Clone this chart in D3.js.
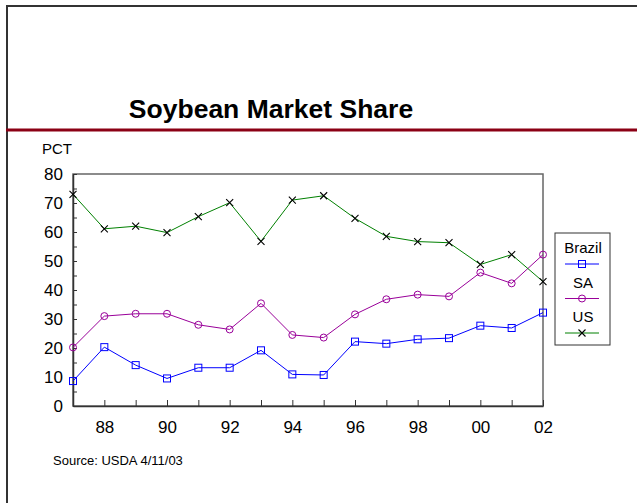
<!DOCTYPE html>
<meta charset="utf-8">
<script src="https://d3js.org/d3.v7.min.js"></script>
<style>
  body { margin: 0; background: #fff; }
  text { font-family: "Liberation Sans", Arial, sans-serif; }
</style>
<div id="my_dataviz"></div>
<script>
  // data
  var years = [1987, 1988, 1989, 1990, 1991, 1992, 1993, 1994, 1995, 1996, 1997, 1998, 1999, 2000, 2001, 2002];
  var brazil = [8.6, 20.3, 14.1, 9.5, 13.2, 13.2, 19.2, 10.9, 10.7, 22.2, 21.5, 23.0, 23.4, 27.7, 26.9, 32.2];
  var sa = [20.2, 31.0, 31.8, 31.8, 28.0, 26.4, 35.4, 24.5, 23.6, 31.6, 36.8, 38.4, 37.8, 46.0, 42.3, 52.2];
  var us = [73.0, 61.1, 62.0, 59.8, 65.3, 70.1, 56.8, 71.0, 72.5, 64.7, 58.5, 56.7, 56.3, 48.8, 52.2, 42.9];
  var xTicks = [1988, 1990, 1992, 1994, 1996, 1998, 2000, 2002];
  var yTicks = [0, 10, 20, 30, 40, 50, 60, 70, 80];
  var seriesNames = ["Brazil", "SA", "US"];

  var W = 637, H = 503;
  var margin = { top: 174, right: 94, bottom: 97, left: 73 },
    width = W - margin.left - margin.right,
    height = H - margin.top - margin.bottom;

  var root = d3.select("#my_dataviz")
    .append("svg")
    .attr("width", W)
    .attr("height", H);

  // slide frame
  root.append("line").attr("x1", 7).attr("x2", 7).attr("y1", 5).attr("y2", H)
    .attr("stroke", "#333").attr("stroke-width", 2);
  root.append("line").attr("x1", 6).attr("x2", W).attr("y1", 6).attr("y2", 6)
    .attr("stroke", "#333").attr("stroke-width", 2);
  root.append("line").attr("x1", 6).attr("x2", W).attr("y1", 130).attr("y2", 130)
    .attr("stroke", "#8b0015").attr("stroke-width", 3);

  root.append("text")
    .attr("x", 271).attr("y", 118)
    .attr("text-anchor", "middle")
    .style("font-size", "26.5px")
    .style("font-weight", "bold")
    .text("Soybean Market Share");

  root.append("text")
    .attr("x", 42).attr("y", 154)
    .style("font-size", "15px")
    .text("PCT");

  root.append("text")
    .attr("x", 53).attr("y", 465)
    .style("font-size", "13px")
    .text("Source: USDA 4/11/03");

  var svg = root.append("g")
    .attr("transform", "translate(" + margin.left + "," + margin.top + ")");

  var x = d3.scaleLinear().domain([1987, 2002]).range([0, width]);
  var y = d3.scaleLinear().domain([0, 80]).range([height, 0]);

  // plot frame (top/right)
  svg.append("rect")
    .attr("width", width).attr("height", height)
    .attr("fill", "none").attr("stroke", "#666").attr("stroke-width", 1.5);

  // x axis: ticks every year, inward
  var xa = svg.append("g")
    .attr("transform", "translate(0," + height + ")")
    .call(d3.axisBottom(x).tickValues(d3.range(1987, 2003)).tickSize(-6).tickSizeOuter(0)
      .tickFormat(function(d) { return xTicks.indexOf(d) >= 0 ? d3.format("02")(d % 100) : ""; }));
  xa.selectAll("text").attr("dy", 0).attr("y", 27).style("font-size", "17px").attr("fill", "#000");
  xa.selectAll("line").attr("stroke", "#333");
  xa.select(".domain").attr("stroke", "#333").attr("stroke-width", 1.5);

  // y axis: ticks every 5, inward; labels at 10s
  var ya = svg.append("g")
    .call(d3.axisLeft(y).tickValues(d3.range(0, 81, 5)).tickSize(-4).tickSizeOuter(0)
      .tickFormat(function(d) { return yTicks.indexOf(d) >= 0 ? d : ""; }));
  ya.selectAll("text").attr("x", -10).style("font-size", "17px").attr("fill", "#000");
  ya.selectAll("line").attr("stroke", "#333");
  ya.select(".domain").attr("stroke", "#333").attr("stroke-width", 1.5);

  var series = [
    { name: "Brazil", values: brazil, color: "#0000ff", marker: "square" },
    { name: "SA", values: sa, color: "#990099", marker: "circle" },
    { name: "US", values: us, color: "#008000", marker: "cross" }
  ];

  var line = d3.line()
    .x(function(d, i) { return x(years[i]); })
    .y(function(d) { return y(d); });

  function drawMarker(g, type, color) {
    if (type === "square") {
      g.append("rect").attr("x", -3.5).attr("y", -3.5).attr("width", 7).attr("height", 7)
        .attr("fill", "none").attr("stroke", color).attr("stroke-width", 1);
    } else if (type === "circle") {
      g.append("circle").attr("r", 3.5).attr("fill", "none").attr("stroke", color).attr("stroke-width", 1);
    } else {
      g.append("path").attr("d", "M-3.5,-3.5L3.5,3.5M-3.5,3.5L3.5,-3.5").attr("stroke", "#000").attr("stroke-width", 1.1);
    }
  }

  series.forEach(function(s) {
    svg.append("path")
      .datum(s.values)
      .attr("fill", "none")
      .attr("stroke", s.color)
      .attr("stroke-width", 1)
      .attr("d", line);
    s.values.forEach(function(v, i) {
      var g = svg.append("g").attr("transform", "translate(" + x(years[i]) + "," + y(v) + ")");
      drawMarker(g, s.marker, s.color);
    });
  });

  // legend
  var lg = root.append("g").attr("transform", "translate(555,233)");
  lg.append("rect").attr("width", 55).attr("height", 112)
    .attr("fill", "#fff").attr("stroke", "#333").attr("stroke-width", 1);
  series.forEach(function(s, i) {
    var yy = i * 34.5;
    lg.append("text").attr("x", 28).attr("y", 20 + yy)
      .attr("text-anchor", "middle").style("font-size", "15px").text(s.name);
    lg.append("line").attr("x1", 10).attr("x2", 44).attr("y1", 31 + yy).attr("y2", 31 + yy)
      .attr("stroke", s.color).attr("stroke-width", 1);
    var g = lg.append("g").attr("transform", "translate(27," + (31 + yy) + ")");
    drawMarker(g, s.marker, s.color);
  });
</script>
